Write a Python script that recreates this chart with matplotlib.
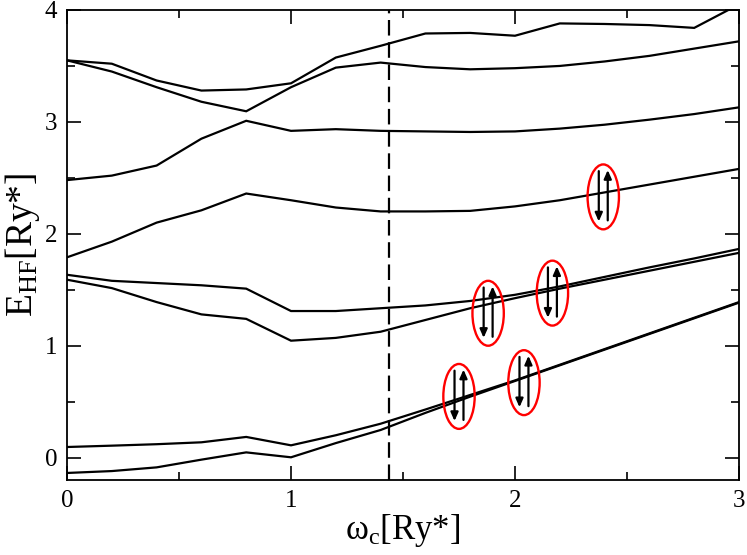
import matplotlib
matplotlib.use("Agg")
import matplotlib.pyplot as plt
from matplotlib.patches import Ellipse
from matplotlib.ticker import MultipleLocator

plt.rcParams['font.family'] = ['Liberation Serif', 'DejaVu Serif']
plt.rcParams['mathtext.fontset'] = 'custom'
plt.rcParams['mathtext.rm'] = 'Liberation Serif'
plt.rcParams['mathtext.it'] = 'Liberation Serif:italic'

# omega_c grid
w = [0.0, 0.2, 0.4, 0.6, 0.8, 1.0, 1.2, 1.4, 1.6, 1.8, 2.0, 2.2, 2.4, 2.6, 2.8, 3.0]

# Hartree-Fock levels
e1 = [3.55, 3.52, 3.37, 3.28, 3.29, 3.345, 3.575, 3.68, 3.79, 3.795, 3.77, 3.88, 3.875, 3.865, 3.84, 4.05]
e2 = [3.55, 3.45, 3.31, 3.18, 3.095, 3.31, 3.485, 3.53, 3.49, 3.47, 3.48, 3.50, 3.54, 3.59, 3.655, 3.72]
e3 = [2.48, 2.52, 2.61, 2.85, 3.01, 2.92, 2.935, 2.92, 2.915, 2.91, 2.915, 2.94, 2.975, 3.02, 3.07, 3.13]
e4 = [1.79, 1.93, 2.10, 2.21, 2.36, 2.30, 2.235, 2.20, 2.20, 2.205, 2.245, 2.30, 2.37, 2.44, 2.51, 2.58]
e5 = [1.634, 1.58, 1.56, 1.54, 1.51, 1.31, 1.31, 1.335, 1.36, 1.40, 1.455, 1.53, 1.615, 1.70, 1.78, 1.865]
e6 = [1.59, 1.515, 1.39, 1.28, 1.24, 1.045, 1.07, 1.125, 1.23, 1.335, 1.425, 1.51, 1.59, 1.67, 1.75, 1.83]
e7 = [0.095, 0.107, 0.12, 0.137, 0.185, 0.11, 0.20, 0.303, 0.43, 0.56, 0.69, 0.83, 0.97, 1.11, 1.25, 1.39]
e8 = [-0.137, -0.12, -0.087, -0.018, 0.047, 0.003, 0.13, 0.247, 0.40, 0.545, 0.685, 0.825, 0.965, 1.105, 1.245, 1.385]
levels = [e1, e2, e3, e4, e5, e6, e7, e8]

w_dash = 1.437

# spin-pair markers (centres)
spin_x = [1.75, 2.04, 1.88, 2.167, 2.394]
spin_y = [0.547, 0.67, 1.29, 1.47, 2.33]

fig = plt.figure(figsize=(7.47, 5.55), dpi=100)
ax = fig.add_axes([0.0897, 0.1351, 0.8996, 0.8469])

for e in levels:
    ax.plot(w, e, color='black', lw=1.6, solid_joinstyle='miter')

ax.axvline(w_dash, color='black', lw=1.6, ls=(0, (7, 3)))

for sx, sy in zip(spin_x, spin_y):
    ax.add_patch(Ellipse((sx, sy), 0.14, 0.58, fill=False, ec='red', lw=1.7, zorder=5))
    ax.annotate('', xy=(sx - 0.02, sy - 0.22), xytext=(sx - 0.02, sy + 0.23),
                arrowprops=dict(arrowstyle='-|>,head_length=0.5,head_width=0.22',
                                color='black', lw=1.6, shrinkA=0, shrinkB=0), zorder=6)
    ax.annotate('', xy=(sx + 0.02, sy + 0.24), xytext=(sx + 0.02, sy - 0.21),
                arrowprops=dict(arrowstyle='-|>,head_length=0.5,head_width=0.22',
                                color='black', lw=1.6, shrinkA=0, shrinkB=0), zorder=6)

ax.set_xlim(0, 3)
ax.set_ylim(-0.2, 4)
ax.xaxis.set_major_locator(MultipleLocator(1))
ax.xaxis.set_minor_locator(MultipleLocator(0.5))
ax.yaxis.set_major_locator(MultipleLocator(1))
ax.yaxis.set_minor_locator(MultipleLocator(0.5))
ax.tick_params(which='both', direction='in', top=True, right=True, labelsize=18, width=1.2)
ax.tick_params(which='major', length=10, pad=7)
ax.tick_params(which='minor', length=6)
for s in ax.spines.values():
    s.set_linewidth(1.3)

ax.set_xlabel('ω$_{\\rm c}$[Ry*]', fontsize=25, labelpad=0)
ax.set_ylabel('E$_{\\rm HF}$[Ry*]', fontsize=27, labelpad=2)

fig.savefig('out.png', dpi=100)
